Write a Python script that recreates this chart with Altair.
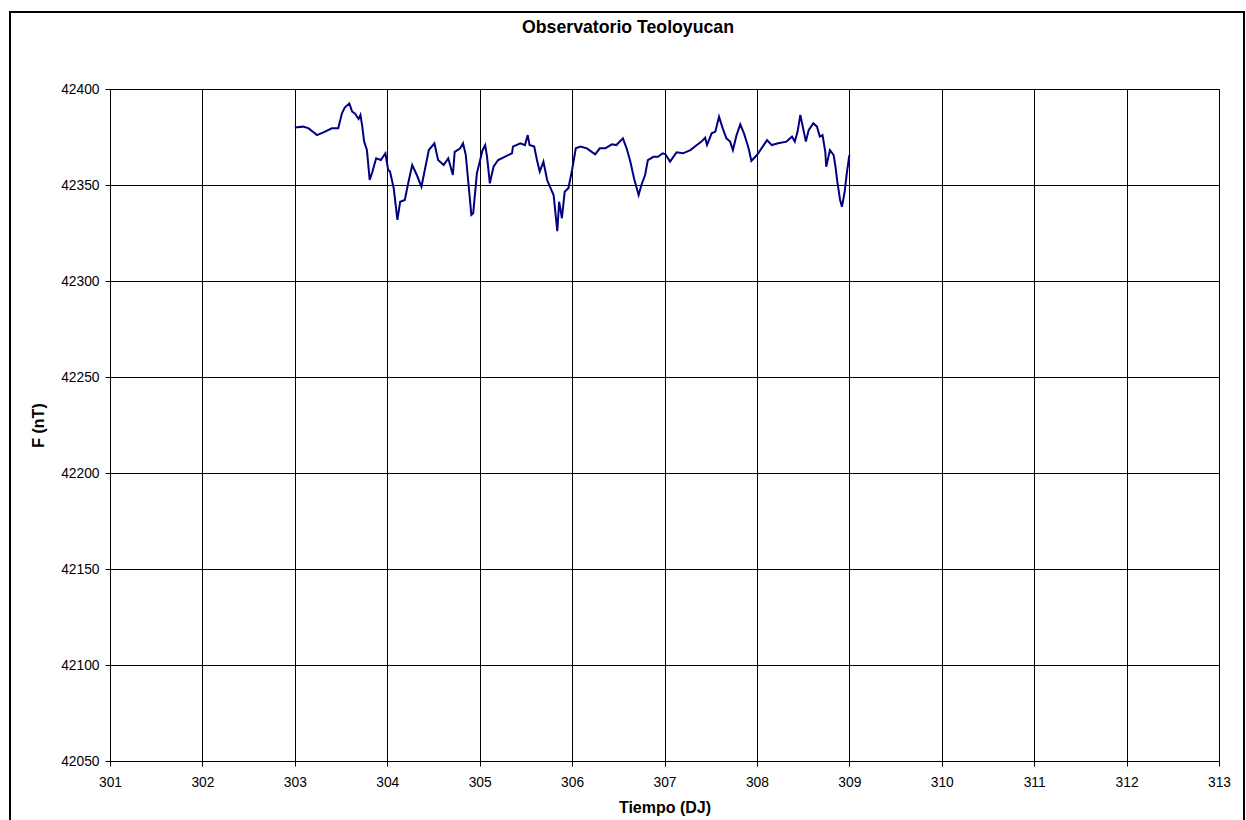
import altair as alt
import pandas as pd

days = [303.00, 303.09, 303.15, 303.24, 303.31, 303.40, 303.47, 303.51, 303.54, 303.59,
        303.62, 303.65, 303.69, 303.71, 303.73, 303.75, 303.78, 303.81, 303.84, 303.88,
        303.93, 303.98, 304.01, 304.03, 304.07, 304.11, 304.14, 304.19, 304.23, 304.27,
        304.32, 304.37, 304.41, 304.45, 304.51, 304.55, 304.61, 304.66, 304.71, 304.73,
        304.79, 304.82, 304.85, 304.88, 304.91, 304.93, 304.97, 305.00, 305.03, 305.06,
        305.08, 305.11, 305.15, 305.20, 305.27, 305.35, 305.36, 305.44, 305.49, 305.52,
        305.54, 305.59, 305.62, 305.65, 305.69, 305.73, 305.76, 305.80, 305.84, 305.86,
        305.89, 305.92, 305.96, 306.00, 306.04, 306.09, 306.16, 306.25, 306.30, 306.36,
        306.43, 306.48, 306.55, 306.59, 306.63, 306.67, 306.72, 306.75, 306.79, 306.82,
        306.88, 306.93, 306.98, 307.01, 307.06, 307.13, 307.20, 307.28, 307.35, 307.40,
        307.44, 307.46, 307.51, 307.55, 307.59, 307.63, 307.67, 307.71, 307.74, 307.78,
        307.82, 307.86, 307.91, 307.94, 308.00, 308.05, 308.11, 308.16, 308.23, 308.32,
        308.38, 308.41, 308.44, 308.47, 308.50, 308.53, 308.56, 308.61, 308.65, 308.68,
        308.71, 308.74, 308.75, 308.79, 308.83, 308.85, 308.87, 308.90, 308.92, 308.95,
        308.97, 309.00]

field_nt = [42380.0, 42380.4, 42379.5, 42376.0, 42377.4, 42379.5, 42379.5, 42387.3, 42390.3, 42392.5,
            42388.2, 42387.3, 42384.4, 42386.5, 42380.4, 42372.6, 42368.2, 42352.6, 42357.0, 42363.9,
            42363.0, 42366.5, 42357.8, 42357.0, 42348.3, 42331.8, 42341.3, 42342.2, 42351.7, 42360.4,
            42355.2, 42349.1, 42358.7, 42368.2, 42371.7, 42363.0, 42360.4, 42363.9, 42355.2, 42367.3,
            42369.1, 42371.7, 42365.6, 42350.0, 42334.4, 42335.3, 42356.1, 42362.0, 42368.0, 42370.8,
            42364.7, 42350.9, 42359.5, 42363.0, 42364.7, 42366.5, 42370.0, 42371.7, 42370.8, 42376.0,
            42370.8, 42370.0, 42363.0, 42357.0, 42362.2, 42352.6, 42349.1, 42344.8, 42326.0, 42341.3,
            42332.7, 42346.5, 42348.3, 42357.8, 42369.1, 42370.0, 42369.1, 42366.0, 42369.1, 42369.1,
            42371.2, 42370.8, 42374.3, 42369.1, 42362.2, 42353.5, 42344.8, 42350.0, 42355.2, 42363.0,
            42364.7, 42364.7, 42366.5, 42366.0, 42362.2, 42367.0, 42366.5, 42368.2, 42370.8, 42372.6,
            42374.6, 42370.8, 42376.9, 42377.8, 42385.6, 42379.5, 42374.3, 42372.6, 42368.2, 42376.0,
            42381.6, 42376.9, 42369.1, 42362.5, 42365.6, 42369.1, 42373.4, 42370.8, 42371.7, 42372.6,
            42375.2, 42372.6, 42377.8, 42386.5, 42379.5, 42372.6, 42378.6, 42382.1, 42380.4, 42375.2,
            42376.0, 42367.3, 42359.5, 42368.2, 42365.6, 42359.5, 42351.7, 42342.2, 42338.7, 42346.5,
            42355.2, 42365.6]

x_ticks = list(range(301, 314))
y_ticks = list(range(42050, 42401, 50))
chart_title = ["Observatorio Teoloyucan"]

df = pd.DataFrame({"dia": days, "F": field_nt})
title_df = pd.DataFrame({"t": chart_title})

FONT = "Liberation Sans"
LABEL_FS = 13.8
AXTITLE_FS = 16

x_enc = alt.X("dia:Q",
              scale=alt.Scale(domain=[301, 313], nice=False, zero=False),
              axis=alt.Axis(values=x_ticks, title="Tiempo (DJ)", format="d",
                            grid=True, gridColor="#000000", gridWidth=1,
                            domainColor="#000000", tickColor="#000000", tickSize=5,
                            labelPadding=9, labelFontSize=LABEL_FS, labelFont=FONT, labelColor="#000000",
                            titleFont=FONT, titleFontSize=AXTITLE_FS, titleFontWeight="bold",
                            titleColor="#000000", titlePadding=11, labelFlush=False))
y_enc = alt.Y("F:Q",
              scale=alt.Scale(domain=[42050, 42400], nice=False, zero=False),
              axis=alt.Axis(values=y_ticks, title="F (nT)", format="d",
                            grid=True, gridColor="#000000", gridWidth=1,
                            domainColor="#000000", tickColor="#000000", tickSize=5,
                            labelPadding=6, labelFontSize=LABEL_FS, labelFont=FONT, labelColor="#000000",
                            titleFont=FONT, titleFontSize=AXTITLE_FS, titleFontWeight="bold",
                            titleColor="#000000", titlePadding=14, labelFlush=False))

line = alt.Chart(df).mark_line(color="#000080", strokeWidth=2).encode(x=x_enc, y=y_enc)

frame = alt.Chart(df).mark_rect(fill=None, stroke="#000000", strokeWidth=2).encode(
    x=alt.value(-100), x2=alt.value(1134), y=alt.value(-77), y2=alt.value(760))

title_text = alt.Chart(title_df).mark_text(
    font=FONT, fontSize=17.7, fontWeight="bold", color="#000000",
    align="center", baseline="middle").encode(
    text="t:N", x=alt.value(518), y=alt.value(-61))

chart = alt.layer(line, frame, title_text).properties(
    width=1109, height=672,
    padding={"left": 110, "top": 89, "right": 27, "bottom": 59},
    autosize=alt.AutoSizeParams(type="none"),
    background="#ffffff",
).configure_view(stroke="#808080", strokeWidth=1)

chart.save("out.html", embed_options={"renderer": "svg", "actions": False})
